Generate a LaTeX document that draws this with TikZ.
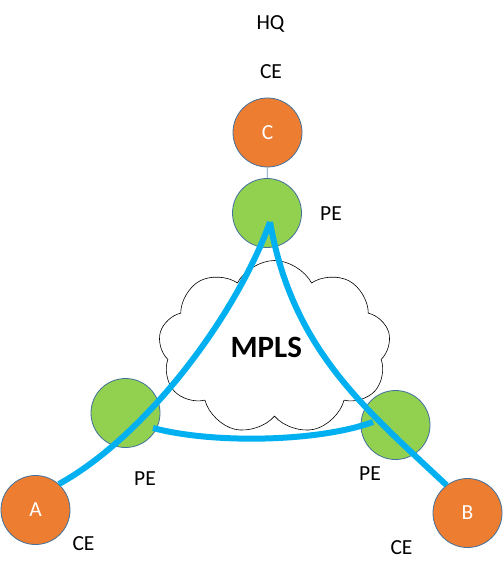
\documentclass[tikz,border=0pt]{standalone}
\usepackage{fontspec}
\setmainfont{Carlito}
\usetikzlibrary{shapes.symbols}
\definecolor{ceorange}{HTML}{ED7D31}
\definecolor{pegreen}{HTML}{92D050}
\definecolor{rimblue}{HTML}{41719C}
\definecolor{linkblue}{HTML}{00B0F0}

\begin{document}
\begin{tikzpicture}[
    x=1pt, y=-1pt,
    router/.style={circle, draw=rimblue, line width=0.8pt, minimum size=69pt, inner sep=0pt, font=\fontsize{21.5}{24}\selectfont},
    ce/.style={router, fill=ceorange, text=white},
    pe/.style={router, fill=pegreen},
    tag/.style={font=\fontsize{21.5}{24}\selectfont, anchor=base, inner sep=0pt},
    link/.style={draw=linkblue, line width=6pt},
    spoke/.style={draw=rimblue!80, line width=0.7pt}
]
\useasboundingbox (0,0) rectangle (503,575);

% Cloud
\node (Cloud) [cloud, draw=black, fill=white, line width=0.6pt, cloud puffs=9, cloud puff arc=125, aspect=1.34, minimum width=232pt, minimum height=174pt] at (274.5,347.5) {};
\node (MplsLabel) [anchor=base, inner sep=0pt, font=\fontsize{31}{34}\selectfont\bfseries] at (266.3,357.3) {MPLS};

% Nodes
\node (HqCE) [ce] at (267.5,132.5) {C};
\node (HqPE) [pe] at (267,213) {};
\node (LeftPE) [pe] at (125.5,413) {};
\node (RightPE) [pe] at (395.5,425) {};
\node (SiteA) [ce] at (35.5,510) {A};
\node (SiteB) [ce] at (467.5,513) {B};

% Labels
\node (HqLabel) [tag] at (270.5,29.5) {HQ};
\node (HqCeLabel) [tag] at (271,78.5) {CE};
\node (HqPeLabel) [tag] at (331,220) {PE};
\node (LeftPeLabel) [tag] at (145,485) {PE};
\node (RightPeLabel) [tag] at (370,480) {PE};
\node (SiteACeLabel) [tag] at (83.5,550) {CE};
\node (SiteBCeLabel) [tag] at (401.5,554) {CE};

% Links
\coordinate (TopTip) at (270,222);
\coordinate (LeftTip) at (153,428);
\coordinate (RightTip) at (373,422);
\draw [spoke] (HqCE) -- (HqPE);
\draw [link] (SiteA.48) .. controls (146,436) and (236,316) .. (TopTip);
\draw [link] (TopTip) .. controls (292.6,350) and (364.6,408) .. (SiteB.127);
\draw [link] (LeftTip) .. controls (213,444) and (318,442) .. (RightTip);

\end{tikzpicture}
\end{document}
